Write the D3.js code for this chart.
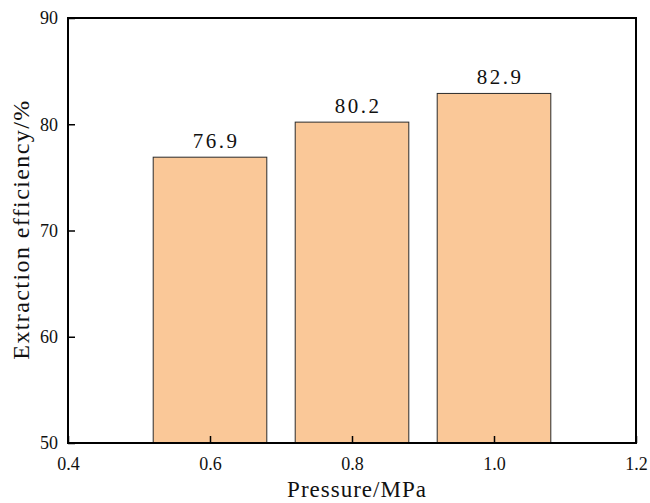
<!DOCTYPE html>
<html>
<head>
<meta charset="utf-8">
<script src="https://cdn.jsdelivr.net/npm/d3@7"></script>
<style>
  html, body { margin: 0; padding: 0; background: #fff; }
  svg { display: block; }
  svg text { font-family: "Liberation Serif", "Times New Roman", serif; }
</style>
</head>
<body>
<script>
// Extraction efficiency at three working pressures
const pressures = [0.6, 0.8, 1.0];
const efficiency = [76.9, 80.2, 82.9];
const xTicks = [0.4, 0.6, 0.8, 1.0, 1.2];
const yTicks = [50, 60, 70, 80, 90];

const W = 650, H = 503;
const margin = { left: 68, right: 14, top: 18, bottom: 60 };
const barWidth = 0.16; // in MPa units

const svg = d3.select("body").append("svg").attr("width", W).attr("height", H);

const x = d3.scaleLinear().domain([0.4, 1.2]).range([margin.left, W - margin.right]);
const y = d3.scaleLinear().domain([50, 90]).range([H - margin.bottom, margin.top]);

const serif = "Liberation Serif, Times New Roman, serif";

// bars
svg.append("g").selectAll("rect")
  .data(pressures)
  .join("rect")
  .attr("x", (d) => x(d - barWidth / 2))
  .attr("width", (d) => x(d + barWidth / 2) - x(d - barWidth / 2))
  .attr("y", (d, i) => y(efficiency[i]))
  .attr("height", (d, i) => y(50) - y(efficiency[i]))
  .attr("fill", "#FAC898")
  .attr("stroke", "#2b2b2b")
  .attr("stroke-width", 1);

// value labels
svg.append("g").selectAll("text")
  .data(pressures)
  .join("text")
  .attr("x", (d) => x(d) + 6)
  .attr("y", (d, i) => y(efficiency[i]) - 9)
  .attr("text-anchor", "middle")
  .style("font-family", serif)
  .style("font-size", "21px")
  .style("letter-spacing", "2.5px")
  .attr("fill", "#111")
  .text((d, i) => efficiency[i].toFixed(1));

// axes with inward ticks
const xAxis = d3.axisBottom(x).tickValues(xTicks).tickFormat(d3.format(".1f"))
  .tickSizeInner(-7).tickSizeOuter(0).tickPadding(14);
const yAxis = d3.axisLeft(y).tickValues(yTicks).tickFormat(d3.format("d"))
  .tickSizeInner(-7).tickSizeOuter(0).tickPadding(10);

const gx = svg.append("g").attr("transform", `translate(0,${y(50)})`).call(xAxis);
const gy = svg.append("g").attr("transform", `translate(${x(0.4)},0)`).call(yAxis);

[gx, gy].forEach((g) => {
  g.attr("font-family", null).attr("font-size", null);
  g.select(".domain").remove();
  g.selectAll(".tick line").attr("stroke", "#000").attr("stroke-width", 1.5);
  g.selectAll(".tick text")
    .style("font-family", serif)
    .style("font-size", "18px")
    .attr("fill", "#111");
});

// frame
svg.append("rect")
  .attr("x", x(0.4)).attr("y", y(90))
  .attr("width", x(1.2) - x(0.4)).attr("height", y(50) - y(90))
  .attr("fill", "none").attr("stroke", "#000").attr("stroke-width", 2);

// axis titles
svg.append("text")
  .attr("x", (x(0.4) + x(1.2)) / 2 + 5)
  .attr("y", 497)
  .attr("text-anchor", "middle")
  .style("font-family", serif).style("font-size", "23px")
  .style("letter-spacing", "1px").attr("fill", "#111")
  .text("Pressure/MPa");

svg.append("text")
  .attr("transform", `translate(29,${(y(50) + y(90)) / 2 - 1}) rotate(-90)`)
  .attr("text-anchor", "middle")
  .style("font-family", serif).style("font-size", "24px")
  .style("letter-spacing", "1.4px").attr("fill", "#111")
  .text("Extraction efficiency/%");
</script>
</body>
</html>
